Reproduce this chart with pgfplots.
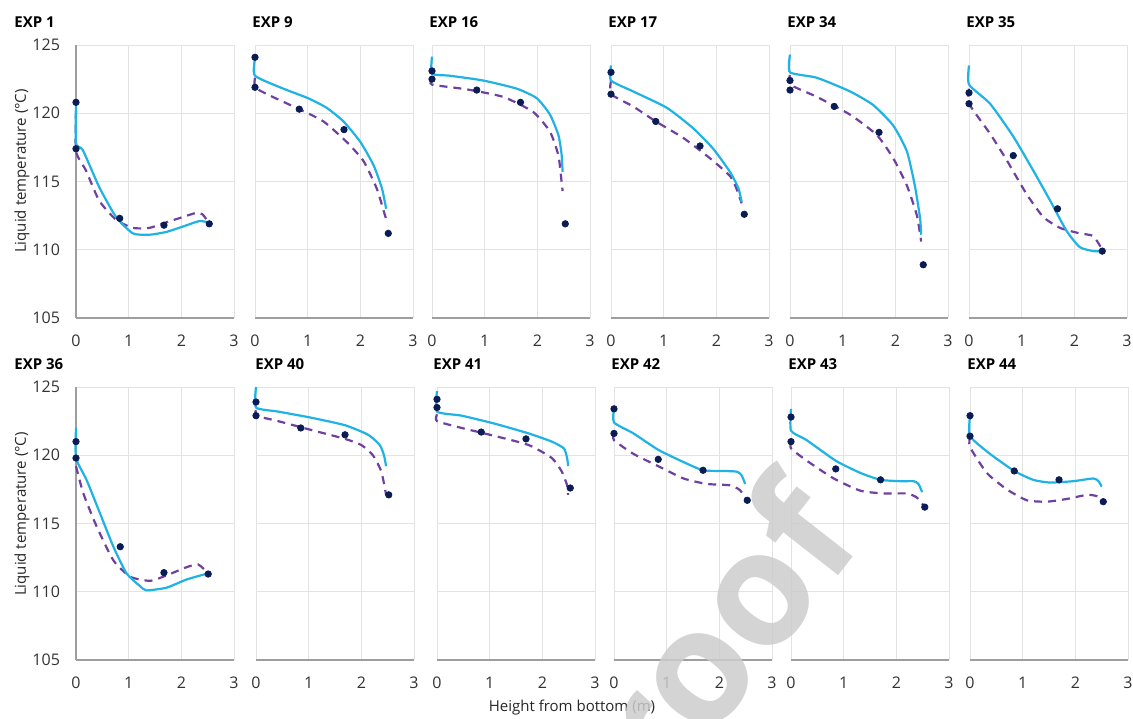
\documentclass[border=0pt]{standalone}
\usepackage{fontspec}
\setmainfont{Open Sans}
\usepackage{pgfplots}
\pgfplotsset{compat=1.18}

\definecolor{simline}{RGB}{31,178,228}
\definecolor{simdash}{RGB}{112,64,160}
\definecolor{meas}{RGB}{10,28,84}

\pgfplotsset{
  panel/.style={
    scale only axis, width=79pt, height=136.5pt,
    anchor=south west,
    xmin=0, xmax=3, ymin=105, ymax=125,
    xtick={0,1,2,3}, xticklabels={0,1,2,3},
    ytick={105,110,115,120,125}, yticklabels={},
    grid=major, grid style={black!11, line width=0.5pt},
    axis lines*=left, axis line style={-, black!38, line width=0.6pt},
    y axis line style={draw=none},
    major tick length=0pt,
    tick label style={font=\fontsize{8}{9}\selectfont, text=black!80},
    xticklabel style={yshift=-5pt},
    clip=false,
  },
  firstcol/.style={
    yticklabels={105,110,115,120,125},
    yticklabel style={xshift=-4.5pt},
    y axis line style={draw=black!38},
  },
  sim/.style={simline, line width=1.1pt, smooth, tension=0.35, no marks},
  simd/.style={simdash, line width=1.1pt, dash pattern=on 4pt off 3pt, smooth, tension=0.35, no marks},
  pts/.style={only marks, mark=*, mark size=1.6pt, meas},
}

\begin{document}
\begin{tikzpicture}
\useasboundingbox (0,0) rectangle (566.5pt,-359pt);

% ---------- row 1 ----------
\begin{axis}[panel, firstcol, at={(38pt,-159pt)}]
\addplot[simd] coordinates {(0,120.2)(0,117.2)(0.19,115.8)(0.44,113.6)(0.76,112.2)(1.08,111.6)(1.39,111.6)(1.71,112.0)(2.03,112.4)(2.28,112.7)(2.4,112.6)(2.52,112.0)};
\addplot[sim] coordinates {(0,120.7)(0,117.8)(0.13,117.3)(0.44,114.6)(0.76,112.4)(1.08,111.2)(1.39,111.1)(1.71,111.3)(2.03,111.7)(2.34,112.1)(2.52,112.0)};
\addplot[pts] coordinates {(0,120.8)(0,117.4)(0.83,112.3)(1.67,111.8)(2.53,111.9)};
\end{axis}

\begin{axis}[panel, at={(127.5pt,-159pt)}]
\addplot[simd] coordinates {(0,122.6)(0,121.9)(0.28,121.3)(0.84,120.3)(1.3,119.4)(1.74,117.9)(2.06,116.5)(2.31,114.5)(2.47,112.5)(2.5,112.2)};
\addplot[sim] coordinates {(0,124.0)(0,122.75)(0.54,121.8)(1.01,121.1)(1.36,120.4)(1.68,119.4)(2.0,117.9)(2.25,116.2)(2.41,114.5)(2.49,113.0)};
\addplot[pts] coordinates {(0,124.1)(0,121.9)(0.84,120.3)(1.69,118.8)(2.53,111.2)};
\end{axis}

\begin{axis}[panel, at={(216pt,-159pt)}]
\addplot[simd] coordinates {(0,122.5)(0,122.1)(0.66,121.75)(1.35,121.2)(1.92,120.1)(2.24,118.65)(2.4,116.9)(2.46,115.0)(2.48,114.3)};
\addplot[sim] coordinates {(0,124.15)(0,122.9)(0.34,122.75)(0.97,122.4)(1.61,121.8)(1.99,121.1)(2.24,119.9)(2.4,118.4)(2.46,117.0)(2.48,115.7)};
\addplot[pts] coordinates {(0,123.1)(0,122.5)(0.85,121.7)(1.68,120.8)(2.53,111.9)};
\end{axis}

\begin{axis}[panel, at={(305.5pt,-159pt)}]
\addplot[simd] coordinates {(0,122.4)(0,121.4)(0.42,120.5)(0.85,119.4)(1.37,118.2)(1.88,116.7)(2.26,115.4)(2.38,114.5)(2.48,113.4)};
\addplot[sim] coordinates {(0,123.5)(0,122.4)(0.42,121.6)(1.06,120.4)(1.56,118.9)(1.94,117.4)(2.26,115.7)(2.42,114.5)(2.48,113.5)};
\addplot[pts] coordinates {(0,123.0)(0,121.4)(0.85,119.4)(1.69,117.6)(2.53,112.6)};
\end{axis}

\begin{axis}[panel, at={(395pt,-159pt)}]
\addplot[simd] coordinates {(0,122.8)(0,122.1)(0.51,121.2)(1.14,119.9)(1.65,118.4)(1.96,116.7)(2.22,114.7)(2.41,112.5)(2.49,110.6)};
\addplot[sim] coordinates {(0,124.3)(0,123.0)(0.51,122.6)(1.14,121.6)(1.58,120.6)(1.96,119.1)(2.22,117.2)(2.37,114.7)(2.47,112.3)(2.49,111.1)};
\addplot[pts] coordinates {(0,122.4)(0,121.7)(0.84,120.5)(1.69,118.6)(2.53,108.9)};
\end{axis}

\begin{axis}[panel, at={(484.5pt,-159pt)}]
\addplot[simd] coordinates {(0,121.8)(0,120.7)(0.4,118.5)(0.71,116.6)(1.09,114.1)(1.41,112.4)(1.73,111.6)(2.1,111.2)(2.36,111.0)(2.53,110.0)};
\addplot[sim] coordinates {(0,123.5)(0,122.1)(0.4,120.7)(0.84,118.3)(1.22,115.8)(1.54,113.6)(1.85,111.4)(2.1,110.2)(2.36,109.9)(2.53,109.9)};
\addplot[pts] coordinates {(0,121.5)(0,120.7)(0.84,116.9)(1.68,113.0)(2.53,109.9)};
\end{axis}

% ---------- row 2 ----------
\begin{axis}[panel, firstcol, at={(38pt,-330pt)}]
\addplot[simd] coordinates {(0,119.2)(0.14,117.2)(0.39,114.8)(0.71,112.3)(1.03,111.1)(1.41,110.8)(1.72,111.2)(2.1,111.8)(2.32,112.0)(2.51,111.35)};
\addplot[sim] coordinates {(0,122.0)(0,119.8)(0.2,118.2)(0.46,115.7)(0.71,113.3)(0.96,111.35)(1.22,110.4)(1.34,110.1)(1.72,110.3)(2.1,110.9)(2.51,111.35)};
\addplot[pts] coordinates {(0,121.0)(0,119.8)(0.84,113.3)(1.67,111.4)(2.51,111.3)};
\end{axis}

\begin{axis}[panel, at={(128pt,-330pt)}]
\addplot[simd] coordinates {(0,123.3)(0,122.9)(0.42,122.5)(1.05,121.85)(1.69,121.2)(2.0,120.75)(2.22,120.0)(2.38,118.8)(2.47,117.1)};
\addplot[sim] coordinates {(0,125.0)(0,123.5)(0.42,123.2)(1.05,122.75)(1.69,122.2)(2.13,121.5)(2.35,120.75)(2.43,120.0)(2.47,119.2)};
\addplot[pts] coordinates {(0,123.9)(0,122.9)(0.85,122.0)(1.69,121.5)(2.52,117.1)};
\end{axis}

\begin{axis}[panel, at={(218.5pt,-330pt)}]
\addplot[simd] coordinates {(0,123.0)(0,122.5)(0.47,122.0)(1.11,121.4)(1.74,120.75)(2.18,119.8)(2.37,118.8)(2.47,117.8)(2.49,117.1)};
\addplot[sim] coordinates {(0,124.7)(0,123.2)(0.47,122.9)(1.11,122.3)(1.74,121.6)(2.18,121.0)(2.41,120.5)(2.47,119.8)(2.49,119.2)};
\addplot[pts] coordinates {(0,124.1)(0,123.5)(0.84,121.7)(1.69,121.2)(2.53,117.6)};
\end{axis}

\begin{axis}[panel, at={(307pt,-330pt)}]
\addplot[simd] coordinates {(0,121.6)(0,121.1)(0.37,120.1)(0.84,119.2)(1.32,118.3)(1.76,117.9)(2.2,117.8)(2.39,117.45)(2.53,116.7)};
\addplot[sim] coordinates {(0,123.4)(0,122.4)(0.37,121.6)(0.84,120.4)(1.32,119.5)(1.69,118.9)(2.07,118.85)(2.33,118.8)(2.42,118.55)(2.49,117.9)};
\addplot[pts] coordinates {(0,123.4)(0,121.6)(0.84,119.7)(1.69,118.9)(2.53,116.7)};
\end{axis}

\begin{axis}[panel, at={(395.5pt,-330pt)}]
\addplot[simd] coordinates {(0,121.0)(0,120.5)(0.3,119.6)(0.81,118.3)(1.32,117.4)(1.77,117.2)(2.2,117.2)(2.39,116.9)(2.54,116.2)};
\addplot[sim] coordinates {(0,123.4)(0,121.8)(0.3,121.1)(0.85,119.6)(1.32,118.7)(1.7,118.2)(2.08,118.1)(2.33,118.1)(2.42,117.9)(2.49,117.3)};
\addplot[pts] coordinates {(0,122.8)(0,121.0)(0.85,119.0)(1.7,118.2)(2.54,116.2)};
\end{axis}

\begin{axis}[panel, at={(485pt,-330pt)}]
\addplot[simd] coordinates {(0,121.4)(0,120.6)(0.32,118.7)(0.7,117.5)(1.08,116.7)(1.46,116.6)(1.84,116.8)(2.22,117.1)(2.41,117.0)(2.53,116.6)};
\addplot[sim] coordinates {(0,122.9)(0,121.4)(0.38,120.1)(0.84,118.85)(1.2,118.2)(1.52,118.0)(1.96,118.1)(2.34,118.3)(2.44,118.1)(2.5,117.7)};
\addplot[pts] coordinates {(0,122.9)(0,121.4)(0.84,118.85)(1.69,118.2)(2.53,116.6)};
\end{axis}

% ---------- titles and shared labels ----------
\tikzset{ttl/.style={anchor=west, inner sep=0pt, font=\fontsize{7.5}{9}\selectfont\bfseries}}
\node[ttl] at (7pt,-11pt) {EXP 1};
\node[ttl] at (126pt,-11pt) {EXP 9};
\node[ttl] at (214.5pt,-11pt) {EXP 16};
\node[ttl] at (304pt,-11pt) {EXP 17};
\node[ttl] at (393.5pt,-11pt) {EXP 34};
\node[ttl] at (483pt,-11pt) {EXP 35};
\node[ttl] at (7pt,-182pt) {EXP 36};
\node[ttl] at (127.5pt,-182pt) {EXP 40};
\node[ttl] at (216.5pt,-182pt) {EXP 41};
\node[ttl] at (305.5pt,-182pt) {EXP 42};
\node[ttl] at (394pt,-182pt) {EXP 43};
\node[ttl] at (483.5pt,-182pt) {EXP 44};

\tikzset{lbl/.style={font=\fontsize{7.5}{9}\selectfont, text=black!85}}
\node[lbl, rotate=90] at (11pt,-85.5pt) {Liquid temperature (°C)};
\node[lbl, rotate=90] at (11pt,-257pt) {Liquid temperature (°C)};
\node[lbl] at (286pt,-354pt) {Height from bottom (m)};

% watermark of the source page
\begin{scope}[shift={(366.5pt,-320pt)}, rotate=52]
\node[anchor=base, transform shape, inner sep=0pt, text=black!20, text opacity=0.85,
  font=\fontsize{80}{80}\selectfont\bfseries] at (-26.8pt,-21.8pt) {proof};
\end{scope}
\end{tikzpicture}
\end{document}
